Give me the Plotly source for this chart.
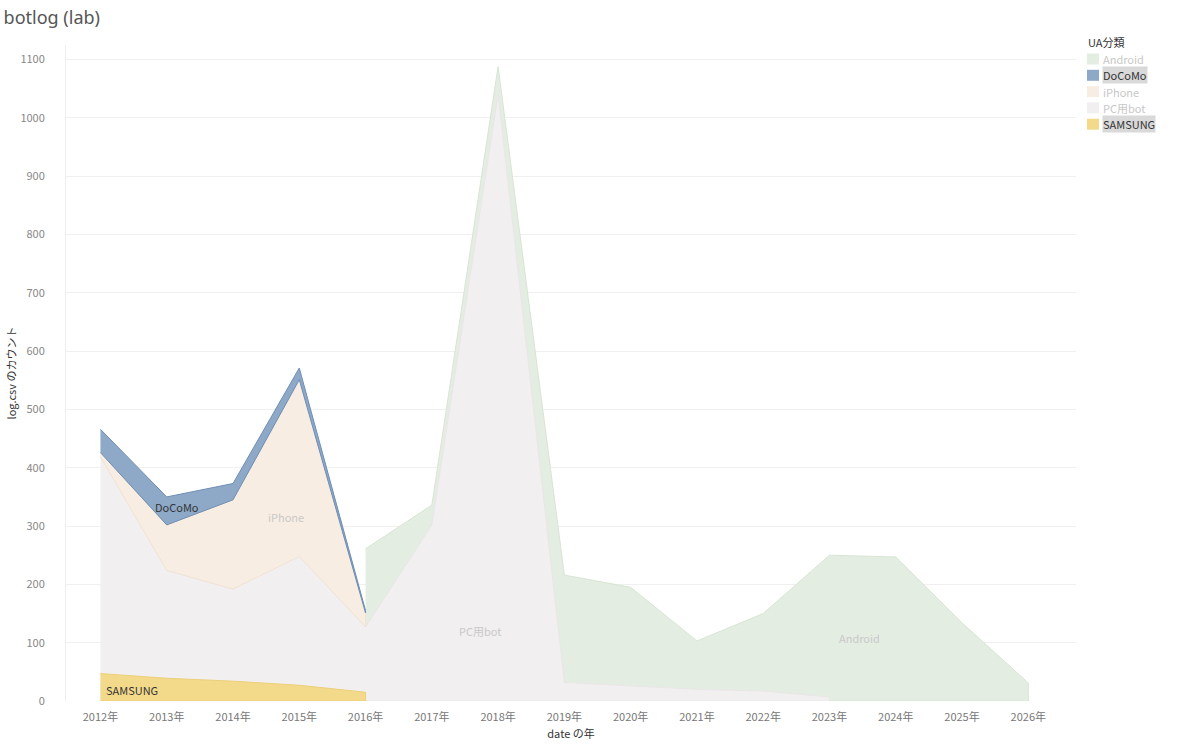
import plotly.graph_objects as go

# ---- data ----
years = list(range(2012, 2027))
year_labels = [f"{y}年" for y in years]
samsung = [47, 39, 34, 27, 15, None, None, None, None, None, None, None, None, None, None]
pc_bot = [372, 185, 158, 221, 112, 302, 1040, 32, 26, 20, 17, 7, None, None, None]
iphone = [7, 78, 153, 303, 24, None, None, None, None, None, None, None, None, None, None]
docomo = [40, 48, 28, 20, 4, None, None, None, None, None, None, None, None, None, None]
android = [None, None, None, None, 134, 34, 48, 184, 169, 83, 133, 243, 247, 134, 31]
y_ticks = list(range(0, 1101, 100))

legend_items = ["Android", "DoCoMo", "iPhone", "PC用bot", "SAMSUNG"]
highlighted = {"DoCoMo", "SAMSUNG"}
fills = {"Android": "#e4ede2", "DoCoMo": "#8ea9c8", "iPhone": "#f8ede2",
         "PC用bot": "#f1eff0", "SAMSUNG": "#f3da8b"}
edges = {"Android": "#d8e5d4", "DoCoMo": "#6e8eb4", "iPhone": "#f2e3d4",
         "PC用bot": "#e9e6e8", "SAMSUNG": "#eccf78"}

FONT = "Noto Sans CJK JP"


def nz(v):
    return 0 if v is None else v


# stacking (Tableau-style: bands end where a series has no data)
s_top = [nz(a) for a in samsung]
pc_top = [nz(a) + nz(b) for a, b in zip(samsung, pc_bot)]
ip_low = pc_top[:]
ip_top = [a + nz(b) for a, b in zip(pc_top, iphone)]
dc_low = ip_top[:]
dc_top = [a + nz(b) for a, b in zip(ip_top, docomo)]
an_top = [a + nz(b) for a, b in zip(pc_top, android)]
zero = [0] * len(years)

fig = go.Figure()


def band(values, lower, upper, name):
    idx = [i for i, v in enumerate(values) if v is not None]
    xs = [years[i] for i in idx] + [years[i] for i in reversed(idx)]
    ys = [upper[i] for i in idx] + [lower[i] for i in reversed(idx)]
    fig.add_trace(go.Scatter(
        x=xs, y=ys, mode="lines", fill="toself", name=name,
        fillcolor=fills[name], line=dict(color=edges[name], width=1),
        hoverinfo="skip", showlegend=False))


# lower layers are drawn later so they sit on top of the upper layers' bases
band(android, zero, an_top, "Android")
band(pc_bot, zero, pc_top, "PC用bot")
band(samsung, zero, s_top, "SAMSUNG")
band(iphone, ip_low, ip_top, "iPhone")
band(docomo, dc_low, dc_top, "DoCoMo")

# in-area mark labels
mark_labels = [
    ("DoCoMo", 2013.15, 333, "#333333", "center"),
    ("iPhone", 2014.8, 316, "#c9c9c9", "center"),
    ("PC用bot", 2017.73, 120, "#c9c9c9", "center"),
    ("Android", 2023.45, 108, "#c9c9c9", "center"),
    ("SAMSUNG", 2012.06, 19, "#333333", "left"),
]
for txt, x, y, col, anc in mark_labels:
    fig.add_annotation(x=x, y=y, text=txt, showarrow=False, xanchor=anc,
                       font=dict(family=FONT, size=11, color=col))

# plot area geometry (px)
L, R, T, B = 66, 1076, 45, 701
W, H = R - L, B - T


def px_x(px):
    return (px - L) / W


def px_y(py):
    return (B - py) / H


# manual legend (Tableau style)
fig.add_annotation(x=px_x(1086), y=px_y(42), xref="paper", yref="paper",
                   text="UA分類", showarrow=False, xanchor="left", yanchor="middle",
                   font=dict(family=FONT, size=11, color="#333333"))
for k, name in enumerate(legend_items):
    cy = 59 + k * 16.3
    fig.add_shape(type="rect", xref="paper", yref="paper",
                  x0=px_x(1087), x1=px_x(1099), y0=px_y(cy - 5.5), y1=px_y(cy + 5.5),
                  fillcolor=fills[name], line=dict(width=0))
    hl = name in highlighted
    fig.add_annotation(x=px_x(1102), y=px_y(cy), xref="paper", yref="paper",
                       text=name, showarrow=False, xanchor="left", yanchor="middle",
                       bgcolor="#d9d9d9" if hl else "rgba(0,0,0,0)",
                       borderpad=0,
                       font=dict(family=FONT, size=11,
                                 color="#333333" if hl else "#c8c8c8"))

fig.update_layout(
    width=1200, height=747,
    margin=dict(l=L, r=1200 - R, t=T, b=747 - B),
    paper_bgcolor="white", plot_bgcolor="white",
    showlegend=False,
    font=dict(family=FONT, size=11, color="#555555"),
    title=dict(text="botlog (lab)", x=0.003, xref="container", xanchor="left",
               y=1 - 18 / 747, yref="container", yanchor="middle",
               font=dict(family="Noto Sans", size=18, color="#555555")),
)
fig.update_xaxes(
    range=[2011.48, 2026.72], tickvals=years, ticktext=year_labels,
    showgrid=False, zeroline=False, showline=False, automargin=False,
    ticks="outside", ticklen=6, tickcolor="rgba(0,0,0,0)",
    tickfont=dict(family=FONT, size=11, color="#777777"),
    title=dict(text="date の年", standoff=7,
               font=dict(family=FONT, size=11, color="#333333")),
)
fig.update_yaxes(
    range=[0, 1125], tickvals=y_ticks,
    showgrid=True, gridcolor="#f0f0f0", gridwidth=1, automargin=False,
    zeroline=False, showline=True, linecolor="#eeeeee", linewidth=1,
    ticks="outside", ticklen=18, tickcolor="rgba(0,0,0,0)",
    tickfont=dict(family=FONT, size=11, color="#888888"),
    title=dict(text="log.csv のカウント", standoff=1,
               font=dict(family=FONT, size=11, color="#333333")),
)

post = ("var s=document.body.style;s.margin='0';s.padding='0';s.height='747px';"
        "s.overflow='hidden';document.documentElement.style.overflow='hidden';"
        "document.documentElement.style.height='747px';")
fig.write_html("out.html", config={"displayModeBar": False}, post_script=post)
